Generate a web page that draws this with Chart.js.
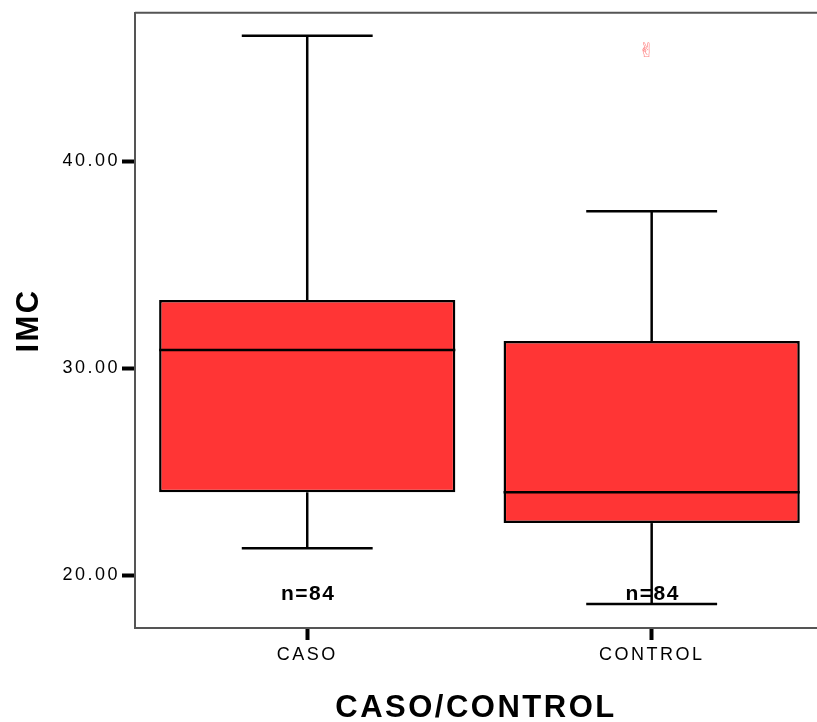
<!DOCTYPE html>
<html><head><meta charset="utf-8">
<script src="https://cdn.jsdelivr.net/npm/chart.js@4/dist/chart.umd.min.js"></script>
<style>html,body{margin:0;padding:0;background:#fff;overflow:hidden}#wrap{width:817px;height:722px;position:relative}</style>
</head><body><div id="wrap"><canvas id="c" width="817" height="722"></canvas></div>
<script>
// ---- data ----
const categories = ['CASO', 'CONTROL'];
const whiskerLow = [21.30, 18.60];
const q1 = [24.00, 22.51];
const median = [30.88, 24.00];
const q3 = [33.29, 31.31];
const whiskerHigh = [46.06, 37.58];
const outliers = [[], [45.30]];
const counts = [84, 84];
const yTicks = [20, 30, 40];

const FONT = 'Liberation Sans';

const boxPlugin = {
  id: 'boxWhiskers',
  beforeDraw(chart) { chart.ctx.letterSpacing = '2.5px'; },
  afterDatasetsDraw(chart) {
    const { ctx, chartArea: a, scales: { x, y } } = chart;
    const meta = chart.getDatasetMeta(0);
    ctx.save();
    // top frame line
    ctx.strokeStyle = '#555'; ctx.lineWidth = 2;
    ctx.beginPath(); ctx.moveTo(a.left, a.top); ctx.lineTo(a.right + 2, a.top); ctx.stroke();
    // n= labels
    ctx.font = 'bold 21px "' + FONT + '"'; ctx.fillStyle = '#000';
    ctx.textAlign = 'center'; ctx.textBaseline = 'middle'; ctx.letterSpacing = '1.5px';
    categories.forEach((c, i) => {
      ctx.fillText('n=' + counts[i], x.getPixelForValue(i) + 1, a.bottom - 34);
    });
    ctx.letterSpacing = '0px';
    // whiskers, caps, medians
    ctx.strokeStyle = '#000'; ctx.lineWidth = 2.5; ctx.lineCap = 'butt';
    const capHalf = 0.19;
    const line = (x1, y1, x2, y2) => { ctx.beginPath(); ctx.moveTo(x1, y1); ctx.lineTo(x2, y2); ctx.stroke(); };
    categories.forEach((c, i) => {
      const cx = x.getPixelForValue(i);
      const cl = x.getPixelForValue(i - capHalf), cr = x.getPixelForValue(i + capHalf);
      line(cx, y.getPixelForValue(q3[i]), cx, y.getPixelForValue(whiskerHigh[i]));
      line(cl, y.getPixelForValue(whiskerHigh[i]), cr, y.getPixelForValue(whiskerHigh[i]));
      line(cx, y.getPixelForValue(q1[i]), cx, y.getPixelForValue(whiskerLow[i]));
      line(cl, y.getPixelForValue(whiskerLow[i]), cr, y.getPixelForValue(whiskerLow[i]));
      const bar = meta.data[i];
      const ym = y.getPixelForValue(median[i]);
      line(bar.x - bar.width / 2, ym, bar.x + bar.width / 2, ym);
    });
    // outliers
    ctx.font = '20px "DejaVu Sans"'; ctx.fillStyle = '#ff8080';
    ctx.textAlign = 'center'; ctx.textBaseline = 'middle';
    categories.forEach((c, i) => {
      outliers[i].forEach(v => {
        ctx.fillText('\u270C', x.getPixelForValue(i) - 5, y.getPixelForValue(v));
      });
    });
    ctx.restore();
  },
  afterDraw(chart) { chart.ctx.letterSpacing = '0px'; }
};

new Chart(document.getElementById('c'), {
  type: 'bar',
  data: {
    datasets: [{
      data: categories.map((c, i) => ({ x: i, y: [q1[i], q3[i]] })),
      backgroundColor: '#ff3535',
      borderColor: '#000',
      borderWidth: 2.5,
      borderSkipped: false,
      barPercentage: 0.86,
      categoryPercentage: 1
    }]
  },
  options: {
    responsive: false,
    animation: false,
    events: [],
    layout: { padding: { top: 12, right: 0, left: 0, bottom: 0 } },
    plugins: { legend: { display: false }, tooltip: { enabled: false } },
    scales: {
      x: {
        type: 'linear', min: -0.5, max: 1.48, offset: false,
        afterBuildTicks: s => { s.ticks = categories.map((c, i) => ({ value: i })); },
        afterFit: s => { s.height = 94; },
        ticks: {
          callback: v => categories[v], color: '#000', autoSkip: false, maxRotation: 0,
          font: { family: FONT, size: 18 }, padding: 4
        },
        grid: { display: true, offset: false, drawOnChartArea: false, tickLength: 12, tickWidth: 4, tickColor: '#000' },
        border: { display: true, color: '#555', width: 2 },
        title: {
          display: true, text: 'CASO/CONTROL', color: '#000',
          font: { family: FONT, size: 31, weight: 'bold', lineHeight: 0.85 }, padding: { top: 0, bottom: 0 }
        }
      },
      y: {
        min: 17.44, max: 47.17,
        afterBuildTicks: s => { s.ticks = yTicks.map(v => ({ value: v })); },
        afterFit: s => { s.width = 135; },
        ticks: {
          callback: v => Number(v).toFixed(2), color: '#000',
          font: { family: FONT, size: 18 }, padding: 2
        },
        grid: { display: true, drawOnChartArea: false, tickLength: 13, tickWidth: 4, tickColor: '#000' },
        border: { display: true, color: '#555', width: 2 },
        title: {
          display: true, text: 'IMC', color: '#000',
          font: { family: FONT, size: 31, weight: 'bold', lineHeight: 0.85 }, padding: { top: 16, bottom: 0 }
        }
      }
    }
  },
  plugins: [boxPlugin]
});
</script>
</body></html>
